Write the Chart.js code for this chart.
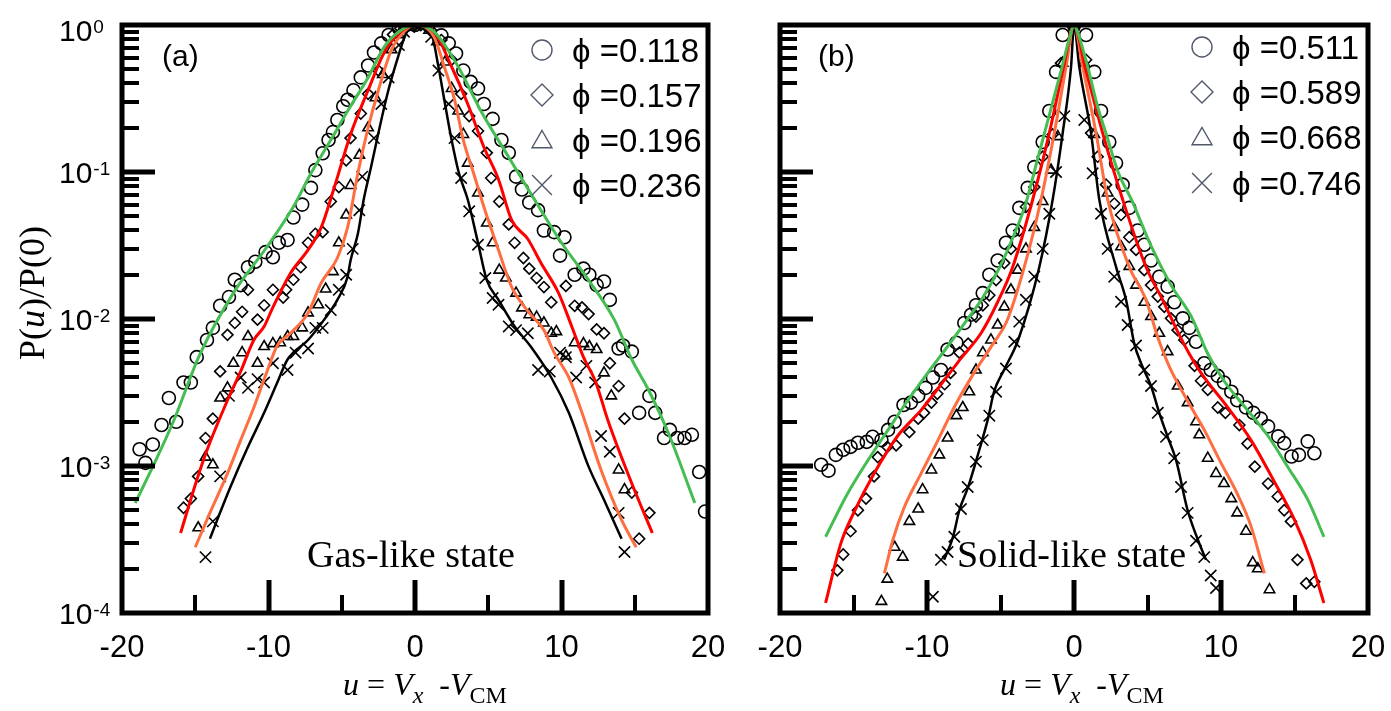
<!DOCTYPE html>
<html>
<head>
<meta charset="utf-8">
<script src="https://cdn.jsdelivr.net/npm/chart.js@4.4.1/dist/chart.umd.min.js"></script>
<style>
  body { margin: 0; background: #fff; }
  #wrap { position: relative; width: 1391px; height: 711px; }
  canvas { position: absolute; top: 0; }
</style>
</head>
<body>
<div id="wrap">
  <canvas id="gas" width="740" height="711" style="left:0"></canvas>
  <canvas id="solid" width="651" height="711" style="left:740px"></canvas>
</div>
<script>
// ---- data: [u, P(u)/P(0)] ----
// panel (a), gas-like state
const gasCircles = [[-18.8,0.0013],[-18.4,0.00105],[-17.9,0.0014],[-17.3,0.0019],[-16.8,0.0029],[-16.3,0.002],[-15.8,0.0037],[-15.3,0.0037],[-14.9,0.0055],[-14.2,0.0072],[-13.8,0.0087],[-13.3,0.0123],[-12.7,0.0141],[-12.3,0.0185],[-11.9,0.017],[-11.4,0.0225],[-10.9,0.0245],[-10.2,0.0285],[-9.7,0.0263],[-9.3,0.033],[-8.7,0.0345],[-8.3,0.049],[-7.7,0.06],[-7.1,0.078],[-6.8,0.103],[-6.3,0.134],[-5.9,0.165],[-5.6,0.187],[-5.3,0.226],[-4.9,0.28],[-4.6,0.31],[-4.2,0.36],[-3.7,0.44],[-3.2,0.53],[-2.8,0.65],[-2.3,0.75],[-1.8,0.855],[-1.1,0.95],[-0.6,1.0],[0,1.0],[0.9,1.0],[1.8,0.85],[2.3,0.75],[2.8,0.64],[3.3,0.49],[3.8,0.41],[4.3,0.37],[4.7,0.29],[5.3,0.23],[5.9,0.165],[6.4,0.135],[6.9,0.093],[7.3,0.076],[7.8,0.062],[8.4,0.055],[8.8,0.04],[9.5,0.039],[9.9,0.027],[10.2,0.036],[10.9,0.02],[11.5,0.022],[11.9,0.02],[12.4,0.017],[12.9,0.018],[13.3,0.0135],[13.9,0.0063],[14.2,0.0066],[14.8,0.006],[15.3,0.0023],[16.0,0.003],[16.4,0.0023],[17.0,0.00155],[17.4,0.00176],[17.9,0.00155],[18.4,0.00155],[18.9,0.00163],[19.4,0.00091],[19.8,0.00049]];
const gasDiamonds = [[-15.8,0.00052],[-15.3,0.0006],[-14.8,0.00085],[-14.3,0.00155],[-13.8,0.0021],[-13.3,0.0044],[-12.8,0.0078],[-12.3,0.0094],[-11.8,0.0112],[-11.4,0.0158],[-10.75,0.0099],[-10.3,0.0124],[-9.7,0.0158],[-9.0,0.014],[-8.8,0.0158],[-8.3,0.0185],[-7.8,0.0225],[-7.3,0.033],[-6.8,0.038],[-6.3,0.039],[-5.75,0.063],[-5.2,0.079],[-4.7,0.12],[-4.4,0.17],[-3.7,0.25],[-3.2,0.34],[-2.5,0.49],[-1.5,0.86],[-1.0,0.95],[0,1.0],[0.4,1.0],[1.1,0.92],[1.8,0.79],[2.5,0.58],[3.15,0.34],[3.7,0.24],[4.3,0.19],[4.9,0.135],[5.2,0.091],[5.75,0.063],[6.4,0.044],[6.8,0.033],[7.4,0.026],[7.8,0.022],[8.3,0.019],[8.8,0.0165],[9.3,0.013],[10.3,0.0168],[10.9,0.0123],[11.4,0.012],[11.85,0.0108],[12.4,0.0085],[12.9,0.008],[13.3,0.005],[13.9,0.0035],[14.3,0.0021],[14.8,0.00066],[15.3,0.00032],[16.0,0.00048]];
const gasTriangles = [[-14.8,0.00038],[-14.3,0.00115],[-13.8,0.00102],[-13.3,0.0029],[-12.8,0.0034],[-12.4,0.005],[-11.8,0.0059],[-11.4,0.0076],[-10.75,0.005],[-10.3,0.0065],[-9.7,0.0068],[-9.2,0.0069],[-8.7,0.0076],[-8.3,0.0076],[-7.7,0.0087],[-7.3,0.011],[-6.6,0.0125],[-6.1,0.016],[-5.6,0.021],[-5.2,0.033],[-4.7,0.051],[-4.4,0.081],[-3.8,0.13],[-3.2,0.2],[-2.7,0.32],[-2.2,0.46],[-1.6,0.68],[-1.1,0.86],[-0.6,0.97],[0,1.0],[0.4,1.0],[0.96,0.92],[1.5,0.77],[2.05,0.56],[2.5,0.37],[2.95,0.26],[3.3,0.18],[3.6,0.115],[4.3,0.072],[4.9,0.045],[5.3,0.033],[5.75,0.0215],[6.2,0.019],[6.9,0.015],[7.3,0.0119],[7.8,0.0107],[8.3,0.0103],[8.8,0.0094],[9.3,0.008],[9.65,0.0082],[10.3,0.0056],[10.9,0.0069],[11.5,0.0068],[11.9,0.0065],[12.4,0.0062],[12.9,0.0043],[13.4,0.003],[13.9,0.00094],[14.3,0.00069]];
const gasCrosses = [[-14.3,0.00024],[-13.8,0.00042],[-13.3,0.00085],[-12.7,0.003],[-11.9,0.004],[-11.4,0.0034],[-10.75,0.0039],[-10.3,0.0037],[-9.7,0.005],[-8.7,0.0045],[-8.15,0.0059],[-7.3,0.0063],[-6.8,0.0087],[-6.3,0.0087],[-5.75,0.0115],[-5.2,0.0158],[-4.7,0.02],[-4.25,0.03],[-3.8,0.055],[-3.6,0.093],[-2.8,0.17],[-2.3,0.29],[-1.8,0.44],[-1.1,0.73],[-0.75,0.9],[-0.4,0.97],[0,1.0],[0.4,1.0],[1.1,0.83],[1.6,0.49],[2.3,0.29],[2.7,0.17],[3.15,0.091],[3.7,0.054],[4.3,0.032],[4.8,0.019],[5.3,0.0139],[5.7,0.0125],[6.4,0.0089],[6.9,0.0084],[7.7,0.008],[8.4,0.0045],[9.2,0.0044],[9.9,0.0059],[10.3,0.0055],[11.0,0.004],[11.7,0.0048],[12.3,0.0037],[12.7,0.0016],[13.3,0.00125],[13.9,0.00048],[14.3,0.00026]];
const gasFitGreen = [[-19.1,0.00056],[-17.9,0.00099],[-16.5,0.002],[-14.7,0.0057],[-12.4,0.015],[-10.1,0.031],[-8.3,0.058],[-7.1,0.098],[-5.75,0.165],[-4.6,0.26],[-3.2,0.44],[-2.1,0.71],[-1.1,0.9],[0,1.0],[1.3,0.9],[2.95,0.52],[4.5,0.26],[6.4,0.126],[8.15,0.065],[10.0,0.033],[11.85,0.0184],[13.6,0.0099],[14.8,0.0053],[16.0,0.0032],[17.3,0.00167],[19.1,0.00056]];
const gasFitRed = [[-16.0,0.00035],[-14.9,0.0008],[-14.2,0.00128],[-12.8,0.0028],[-11.9,0.0044],[-11.0,0.0072],[-10.3,0.0089],[-9.7,0.012],[-8.5,0.0205],[-7.3,0.0295],[-6.4,0.042],[-5.5,0.079],[-4.4,0.18],[-3.2,0.36],[-2.1,0.65],[-1.1,0.88],[0,1.0],[1.3,0.9],[2.5,0.52],[3.6,0.29],[4.7,0.148],[5.7,0.089],[6.6,0.047],[7.7,0.035],[8.6,0.024],[9.8,0.015],[10.7,0.0089],[11.5,0.0055],[12.3,0.0038],[13.2,0.002],[14.8,0.00076],[16.2,0.00035]];
const gasFitOrange = [[-15.0,0.00028],[-14.0,0.00048],[-12.8,0.00089],[-11.9,0.0015],[-11.0,0.0025],[-10.1,0.0044],[-9.4,0.0066],[-8.5,0.008],[-7.3,0.011],[-6.4,0.0176],[-5.3,0.026],[-4.6,0.042],[-3.9,0.098],[-3.2,0.2],[-2.5,0.36],[-1.6,0.68],[-0.75,0.9],[0,1.0],[1.3,0.83],[2.0,0.52],[2.7,0.31],[3.3,0.165],[4.0,0.098],[4.7,0.058],[5.7,0.0295],[6.6,0.0165],[7.8,0.011],[8.8,0.0084],[9.5,0.0059],[10.5,0.004],[11.4,0.0023],[12.7,0.00094],[14.1,0.00043],[15.1,0.00028]];
const gasFitBlack = [[-14.0,0.00032],[-13.5,0.00043],[-12.6,0.00072],[-11.4,0.00135],[-10.3,0.0023],[-9.4,0.0037],[-8.7,0.0053],[-7.3,0.0072],[-6.2,0.0099],[-5.3,0.0135],[-4.6,0.0194],[-4.4,0.025],[-3.9,0.038],[-3.5,0.065],[-3.0,0.108],[-2.5,0.184],[-1.85,0.35],[-1.15,0.61],[-0.6,0.88],[0,1.0],[1.1,0.88],[1.6,0.52],[2.0,0.31],[2.5,0.165],[3.0,0.098],[3.6,0.065],[4.3,0.033],[4.9,0.0184],[5.7,0.0135],[6.8,0.0089],[7.9,0.0065],[9.3,0.004],[10.5,0.0023],[11.85,0.00099],[12.9,0.00059],[14.1,0.00032]];

// panel (b), solid-like state
const solidCircles = [[-17.2,0.00102],[-16.7,0.00093],[-16.2,0.00119],[-15.7,0.00129],[-15.2,0.00135],[-14.7,0.00144],[-14.1,0.00146],[-13.7,0.00158],[-13.1,0.0015],[-12.65,0.00176],[-12.2,0.002],[-11.6,0.0026],[-11.1,0.0027],[-10.6,0.003],[-10.1,0.0034],[-9.6,0.004],[-9.05,0.0045],[-8.6,0.0062],[-8.0,0.0069],[-7.46,0.0094],[-7.0,0.0107],[-6.67,0.0124],[-6.21,0.015],[-5.76,0.02],[-5.19,0.025],[-4.63,0.033],[-4.17,0.04],[-3.72,0.057],[-3.15,0.078],[-2.7,0.108],[-2.13,0.16],[-1.68,0.26],[-1.22,0.48],[-0.77,0.855],[0,1.0],[0.82,0.855],[1.38,0.48],[1.84,0.26],[2.4,0.16],[2.86,0.115],[3.31,0.082],[3.76,0.057],[4.33,0.04],[4.78,0.032],[5.24,0.025],[5.8,0.0194],[6.37,0.0166],[6.82,0.013],[7.4,0.0101],[7.84,0.0087],[8.3,0.007],[8.86,0.005],[9.3,0.0045],[9.78,0.0041],[10.2,0.0037],[10.7,0.0032],[11.1,0.0028],[11.7,0.0025],[12.2,0.0023],[12.7,0.0021],[13.2,0.00186],[13.9,0.00159],[14.3,0.00143],[14.8,0.00116],[15.3,0.00119],[15.9,0.00147],[16.35,0.00122]];
const solidDiamonds = [[-16.1,0.000195],[-15.7,0.00025],[-15.2,0.00036],[-14.7,0.0005],[-14.15,0.0006],[-13.6,0.00085],[-13.35,0.00115],[-12.7,0.00135],[-12.1,0.00138],[-11.2,0.0017],[-10.6,0.0021],[-10.2,0.0023],[-9.7,0.0027],[-9.3,0.0031],[-8.8,0.0036],[-8.4,0.0043],[-7.8,0.0059],[-7.2,0.0068],[-6.67,0.0104],[-6.2,0.0124],[-5.76,0.0145],[-5.3,0.0184],[-4.74,0.024],[-4.29,0.03],[-3.72,0.04],[-3.27,0.058],[-2.7,0.079],[-2.13,0.127],[-1.45,0.18],[-0.88,0.55],[0,1.0],[0.82,0.58],[1.16,0.184],[1.61,0.127],[2.18,0.082],[2.74,0.061],[3.2,0.051],[3.76,0.036],[4.22,0.0295],[4.78,0.0215],[5.24,0.017],[5.7,0.0142],[6.14,0.0121],[6.6,0.0101],[7.05,0.0084],[7.5,0.0072],[8.2,0.0048],[8.64,0.0038],[9.1,0.0033],[9.78,0.0025],[10.3,0.0023],[11.25,0.0019],[11.8,0.00142],[12.3,0.00099],[13.2,0.00076],[13.86,0.00062],[14.3,0.0005],[14.76,0.00042],[15.2,0.00023],[15.8,0.000159],[16.35,0.000163]];
const solidTriangles = [[-13.1,0.00012],[-12.7,0.00017],[-12.2,0.00028],[-11.65,0.00024],[-11.2,0.00042],[-10.6,0.00051],[-10.3,0.00069],[-9.7,0.00094],[-9.16,0.00119],[-8.6,0.00155],[-8.0,0.0022],[-7.57,0.0025],[-7.12,0.0032],[-6.67,0.0045],[-6.2,0.0059],[-5.65,0.0072],[-5.19,0.0091],[-4.74,0.0121],[-4.29,0.0158],[-3.83,0.0215],[-3.27,0.03],[-2.7,0.042],[-2.13,0.063],[-1.56,0.103],[-1.1,0.174],[-0.77,0.55],[0,1.0],[0.7,0.55],[1.38,0.18],[2.29,0.072],[2.74,0.042],[3.2,0.031],[3.76,0.0228],[4.22,0.017],[4.78,0.013],[5.24,0.0104],[5.8,0.008],[6.37,0.006],[7.05,0.0035],[7.73,0.0027],[8.3,0.002],[8.52,0.00163],[9.1,0.00113],[9.66,0.00089],[10.2,0.00076],[10.7,0.0006],[11.1,0.00048],[11.7,0.00036],[12.16,0.00022],[12.5,0.0002],[13.3,0.000144]];
const solidCrosses = [[-9.6,0.000129],[-9.05,0.00023],[-8.6,0.00026],[-8.14,0.00033],[-7.69,0.00051],[-7.23,0.00072],[-6.67,0.00107],[-6.21,0.0015],[-5.76,0.0022],[-5.3,0.0032],[-4.63,0.0046],[-4.06,0.007],[-3.72,0.0096],[-3.27,0.0135],[-2.7,0.0194],[-2.13,0.03],[-1.68,0.052],[-1.22,0.1],[-0.66,0.24],[0,1.0],[0.7,0.226],[1.27,0.098],[1.84,0.052],[2.29,0.03],[2.74,0.0194],[3.2,0.0131],[3.65,0.0091],[4.22,0.0066],[4.78,0.0045],[5.24,0.0035],[5.7,0.0023],[6.26,0.00158],[6.82,0.00113],[7.28,0.00072],[7.73,0.00048],[8.3,0.00031],[8.86,0.00024],[9.3,0.00018],[9.66,0.000148]];
const solidFitGreen = [[-16.9,0.00033],[-15.4,0.00065],[-14.0,0.0011],[-12.65,0.00176],[-11.3,0.0028],[-9.95,0.0043],[-8.6,0.0065],[-7.4,0.0095],[-6.2,0.014],[-5.1,0.022],[-4.1,0.037],[-3.3,0.06],[-2.5,0.12],[-1.7,0.24],[-0.9,0.48],[-0.3,0.82],[0,1.0],[0.27,0.88],[0.93,0.52],[1.6,0.28],[2.2,0.18],[3.0,0.1],[4.0,0.062],[5.2,0.032],[6.6,0.017],[8.0,0.0103],[9.1,0.0058],[10.2,0.0038],[11.8,0.0024],[13.2,0.0016],[14.5,0.001],[15.9,0.00059],[17.0,0.00033]];
const solidFitRed = [[-16.9,0.000117],[-15.85,0.0003],[-14.9,0.0005],[-13.6,0.00089],[-12.0,0.0016],[-10.4,0.0024],[-8.6,0.0041],[-7.69,0.0054],[-6.33,0.008],[-5.2,0.013],[-4.17,0.0226],[-2.81,0.065],[-1.68,0.184],[-0.7,0.52],[0,1.0],[0.75,0.52],[1.95,0.184],[3.31,0.065],[4.9,0.0226],[6.03,0.0135],[7.05,0.0082],[7.84,0.0058],[8.64,0.0043],[10.46,0.0025],[12.04,0.0015],[13.6,0.00079],[15.0,0.00043],[16.1,0.00023],[17.0,0.000117]];
const solidFitOrange = [[-12.9,0.000186],[-12.3,0.00032],[-11.56,0.00052],[-10.4,0.00089],[-9.25,0.0015],[-8.16,0.0025],[-6.8,0.0043],[-5.5,0.0068],[-4.6,0.0095],[-3.38,0.0226],[-2.24,0.065],[-1.34,0.184],[-0.54,0.52],[0,1.0],[0.59,0.52],[1.5,0.184],[2.29,0.065],[3.76,0.0226],[4.9,0.0135],[5.7,0.0075],[6.5,0.0047],[7.7,0.0028],[8.86,0.00176],[10.0,0.00105],[11.1,0.00065],[12.04,0.00039],[12.95,0.000186]];
const solidFitBlack = [[-8.84,0.00023],[-8.23,0.00033],[-7.8,0.0005],[-7.2,0.00072],[-6.53,0.0012],[-5.85,0.0021],[-5.44,0.0032],[-4.76,0.0045],[-3.8,0.0072],[-2.36,0.0226],[-1.45,0.065],[-0.77,0.184],[-0.2,0.52],[0,1.0],[0.36,0.52],[1.16,0.184],[1.72,0.065],[2.86,0.0226],[3.54,0.0135],[4.1,0.0068],[4.56,0.005],[5.24,0.0035],[5.8,0.0023],[6.37,0.00158],[6.94,0.0011],[7.73,0.0005],[8.4,0.00032],[8.98,0.00023]];

// legend text and axis ticks
const gasPhi = ['0.118', '0.157', '0.196', '0.236'];
const solidPhi = ['0.511', '0.589', '0.668', '0.746'];
const xTickLabels = [-20, -10, 0, 10, 20];
const xMajor = [-10, 0, 10];
const xMinor = [-15, -5, 5, 15];
const yExponents = [0, -1, -2, -3, -4];

const SANS = '"Liberation Sans", Arial, sans-serif';
const SERIF = '"Liberation Serif", "Times New Roman", serif';
const markerStyles = ['circle', 'rectRot', 'triangle', 'crossRot'];
const markerRadius = { circle: 6.5, rectRot: 5.5, triangle: 6, crossRot: 8 };
const fitColors = ['#44bd52', '#ff0000', '#ff6e40', '#000000'];

const toXY = pts => pts.map(([x, y]) => ({ x, y }));

function drawRuns(ctx, runs, cx, base) {
  let total = 0;
  runs.forEach(r => { ctx.font = r.font; total += ctx.measureText(r.t).width; });
  let x = cx - total / 2;
  runs.forEach(r => {
    ctx.font = r.font;
    ctx.fillText(r.t, x, base + (r.dy || 0));
    x += ctx.measureText(r.t).width;
  });
}

// ticks, frame, labels, legend drawn on top of the data with the chart's own scales
const axesPlugin = {
  id: 'axesPlugin',
  afterDatasetsDraw(chart, args, o) {
    const { ctx, chartArea: a } = chart;
    const xs = chart.scales.x, ys = chart.scales.y;
    ctx.save();
    ctx.strokeStyle = '#000';
    ctx.fillStyle = '#000';

    // y ticks pointing in
    for (let e = -4; e < 0; e++) {
      for (let m = 1; m < 10; m++) {
        const v = m * Math.pow(10, e);
        if (e === -4 && m === 1) continue;
        const py = Math.round(ys.getPixelForValue(v));
        ctx.lineWidth = m === 1 ? 5 : 4;
        ctx.beginPath();
        ctx.moveTo(a.left, py);
        ctx.lineTo(a.left + (m === 1 ? 33 : 17), py);
        ctx.stroke();
      }
    }
    // x ticks pointing in
    xMajor.concat(xMinor).forEach(v => {
      const px = Math.round(xs.getPixelForValue(v));
      const major = xMajor.includes(v);
      ctx.lineWidth = major ? 5 : 4;
      ctx.beginPath();
      ctx.moveTo(px, a.bottom);
      ctx.lineTo(px, a.bottom - (major ? 33 : 18));
      ctx.stroke();
    });
    // frame
    ctx.lineWidth = 5;
    ctx.strokeRect(a.left, a.top, a.right - a.left, a.bottom - a.top);

    // x tick labels
    ctx.font = '31px ' + SANS;
    ctx.textAlign = 'center';
    ctx.textBaseline = 'alphabetic';
    xTickLabels.forEach(v => {
      ctx.fillText(String(v), xs.getPixelForValue(v), 657);
    });

    // y tick labels (panel a only)
    if (o.yLabels) {
      ctx.textAlign = 'left';
      yExponents.forEach(e => {
        const py = Math.max(ys.getPixelForValue(Math.pow(10, e)), 30);
        ctx.font = '30px ' + SANS;
        ctx.fillText('10', 59, py + 11);
        const w = ctx.measureText('10').width;
        ctx.font = '19px ' + SANS;
        ctx.fillText(String(e), 59 + w + 1, py + 3);
      });
      // y title
      ctx.save();
      ctx.translate(35, 293);
      ctx.rotate(-Math.PI / 2);
      ctx.textAlign = 'left';
      ctx.textBaseline = 'middle';
      drawRuns(ctx, [
        { t: 'P(', font: '36px ' + SERIF },
        { t: 'u', font: 'italic 36px ' + SERIF },
        { t: ')/P(0)', font: '36px ' + SERIF }
      ], 0, 0);
      ctx.restore();
    }

    // x title
    ctx.textAlign = 'left';
    ctx.textBaseline = 'alphabetic';
    drawRuns(ctx, [
      { t: 'u', font: 'italic 32px ' + SERIF },
      { t: ' = ', font: '32px ' + SERIF },
      { t: 'V', font: 'italic 32px ' + SERIF },
      { t: 'x', font: 'italic 24px ' + SERIF, dy: 8 },
      { t: '  -', font: '32px ' + SERIF },
      { t: 'V', font: 'italic 32px ' + SERIF },
      { t: 'CM', font: '24px ' + SERIF, dy: 8 }
    ], o.titleX, 695);

    // panel tag and state label
    ctx.font = '30px ' + SANS;
    ctx.fillText(o.tag, o.tagX, 66);
    ctx.font = '38px ' + SERIF;
    ctx.fillText(o.state, o.stateX, 567);

    // legend
    o.phi.forEach((p, i) => {
      const ry = o.legendY[i];
      const style = markerStyles[i];
      const r = { circle: 10, rectRot: 11, triangle: 11.5, crossRot: 14 }[style];
      ctx.save();
      ctx.strokeStyle = '#505868';
      ctx.fillStyle = 'rgba(0,0,0,0)';
      ctx.lineWidth = 1.4;
      Chart.helpers.drawPoint(ctx, { pointStyle: style, rotation: 0, radius: r, borderWidth: 1.4 },
        o.legendX, ry + (style === 'triangle' ? 2 : 0));
      ctx.restore();
      ctx.font = '33px ' + SANS;
      ctx.fillStyle = '#000';
      ctx.fillText('\u03d5 =' + p, o.legendX + 30, ry + 12);
    });
    ctx.restore();
  }
};

function makePanel(id, markers, fits, padding, o) {
  const datasets = [];
  fits.forEach((f, i) => datasets.push({
    data: toXY(f),
    showLine: true,
    borderColor: fitColors[i],
    borderWidth: i === 3 ? 2.5 : 3,
    pointRadius: 0,
    cubicInterpolationMode: 'monotone'
  }));
  markers.forEach((m, i) => datasets.push({
    data: toXY(m),
    showLine: false,
    pointStyle: markerStyles[i],
    pointRadius: markerRadius[markerStyles[i]],
    pointBorderWidth: 1.6,
    borderColor: '#000',
    backgroundColor: 'rgba(0,0,0,0)'
  }));
  return new Chart(document.getElementById(id), {
    type: 'scatter',
    data: { datasets },
    options: {
      responsive: false,
      animation: false,
      layout: { padding },
      plugins: { legend: { display: false }, tooltip: { enabled: false }, axesPlugin: o },
      scales: {
        x: { type: 'linear', display: false, min: -20, max: 20 },
        y: { type: 'logarithmic', display: false, min: 1e-4, max: 1 }
      }
    },
    plugins: [axesPlugin]
  });
}

makePanel('gas',
  [gasCircles, gasDiamonds, gasTriangles, gasCrosses],
  [gasFitGreen, gasFitRed, gasFitOrange, gasFitBlack],
  { left: 122, top: 25, right: 32, bottom: 98 },
  { yLabels: true, titleX: 425, tag: '(a)', tagX: 162, state: 'Gas-like state', stateX: 307,
    phi: gasPhi, legendX: 542, legendY: [50, 95, 140, 185] });

makePanel('solid',
  [solidCircles, solidDiamonds, solidTriangles, solidCrosses],
  [solidFitGreen, solidFitRed, solidFitOrange, solidFitBlack],
  { left: 40, top: 25, right: 23, bottom: 98 },
  { yLabels: false, titleX: 342, tag: '(b)', tagX: 78, state: 'Solid-like state', stateX: 217,
    phi: solidPhi, legendX: 462, legendY: [47, 92, 137, 183] });
</script>
</body>
</html>
